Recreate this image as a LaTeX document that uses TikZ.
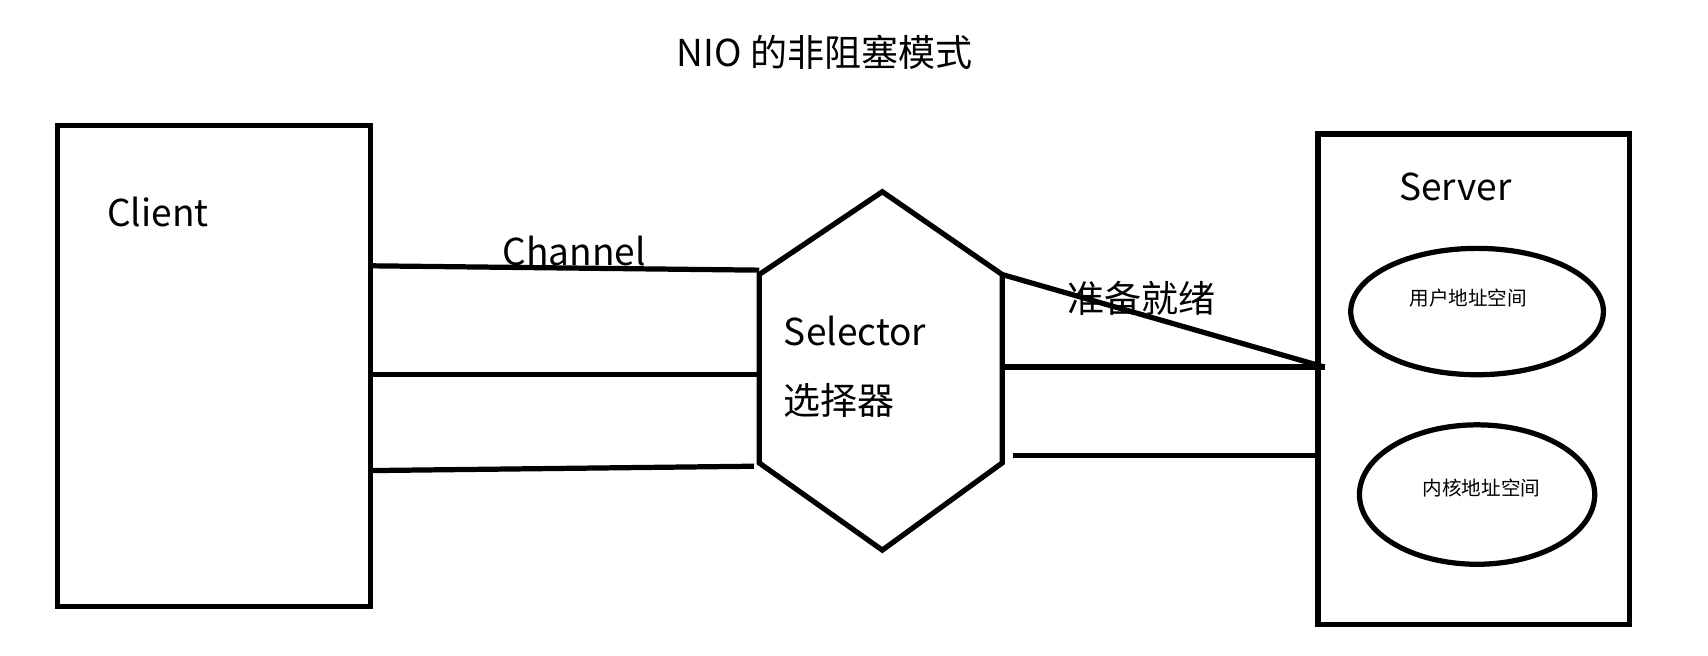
\documentclass[tikz,border=0pt]{standalone}
\usepackage{fontspec}
\usetikzlibrary{shapes.geometric}
\setmainfont{Noto Sans CJK SC}
\begin{document}
\begin{tikzpicture}[x=0.5pt,y=-0.5pt,line width=2.4pt,
  lbl/.style={inner sep=0pt,font=\fontsize{17}{20}\selectfont},
  sml/.style={inner sep=0pt,font=\fontsize{9}{11}\selectfont}]
\useasboundingbox (0,0) rectangle (1568,602);
\node[lbl] (title) at (757,48) {NIO 的非阻塞模式};
\node[draw,minimum width=143.5pt,minimum height=221pt,inner sep=0pt] (client) at (196.5,336) {};
\node[lbl] at (145,195) {Client};
\node[draw,minimum width=143pt,minimum height=225pt,inner sep=0pt] (server) at (1353,348) {};
\node[lbl] at (1336,172) {Server};
\draw (697,252) coordinate (h1) -- (810,176) -- (920,252) coordinate (h3) -- (920,425) coordinate (h4) -- (810,505) -- (697,425) coordinate (h6) -- cycle;
\node[lbl] (sel) at (785,304) {Selector};
\node[lbl] at (770,368) {选择器};
\node[draw,ellipse,minimum width=116pt,minimum height=58pt,inner sep=0pt] (u) at (1356,286) {};
\node[sml] at (1348,274) {用户地址空间};
\node[draw,ellipse,minimum width=108pt,minimum height=64pt,inner sep=0pt] (k) at (1356,454) {};
\node[sml] at (1360,448) {内核地址空间};
\coordinate (c1) at (340,244); \coordinate (s1) at (697,248);
\coordinate (c2) at (340,344); \coordinate (s2) at (697,344);
\coordinate (c3) at (340,432); \coordinate (s3) at (692,428);
\draw (c1) -- (s1); \draw (c2) -- (s2); \draw (c3) -- (s3);
\coordinate (r0) at (1216,337);
\coordinate (l2) at (920,337);
\coordinate (l3) at (930,418); \coordinate (r3) at (1212,418);
\draw (h3) -- (r0); \draw (l2) -- (r0); \draw (l3) -- (r3);
\node[lbl] at (527,230) {Channel};
\node[lbl] at (1048,274) {准备就绪};
\end{tikzpicture}
\end{document}
